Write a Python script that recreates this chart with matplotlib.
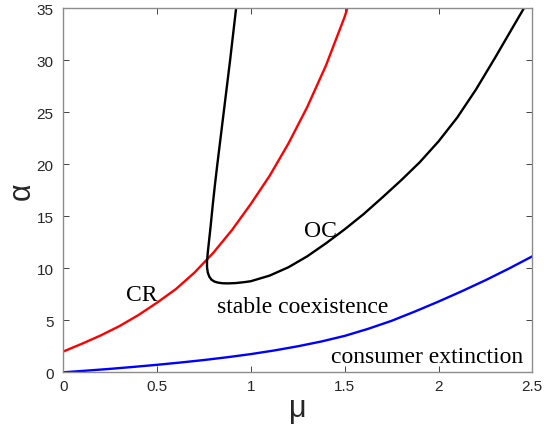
import matplotlib
matplotlib.use("Agg")
import matplotlib.pyplot as plt

# CR boundary (red)
cr_mu = [0.0, 0.1, 0.2, 0.3, 0.4, 0.5, 0.6, 0.7, 0.8, 0.9,
         1.0, 1.1, 1.2, 1.3, 1.4, 1.5, 1.514]
cr_alpha = [2.0, 2.75, 3.55, 4.45, 5.5, 6.7, 8.0, 9.6, 11.5, 13.7,
            16.2, 18.9, 22.0, 25.5, 29.5, 34.2, 35.0]

# consumer extinction boundary (blue)
ce_mu = [0.0, 0.125, 0.25, 0.375, 0.5, 0.625, 0.75, 0.875, 1.0, 1.125, 1.25,
         1.375, 1.5, 1.625, 1.75, 1.875, 2.0, 2.125, 2.25, 2.375, 2.5]
ce_alpha = [0.0, 0.16, 0.33, 0.52, 0.72, 0.94, 1.18, 1.45, 1.75, 2.1, 2.5,
            2.96, 3.5, 4.18, 4.95, 5.85, 6.8, 7.8, 8.85, 9.97, 11.15]

# OC boundary (black)
oc_mu = [0.921, 0.905, 0.889, 0.872, 0.855, 0.838, 0.821, 0.808, 0.796, 0.785,
         0.776, 0.770, 0.766, 0.766, 0.770, 0.778, 0.790, 0.806, 0.825, 0.85,
         0.88, 0.92, 0.97, 1.0, 1.1, 1.2, 1.3, 1.4, 1.5, 1.6, 1.7,
         1.8, 1.9, 2.0, 2.1, 2.2, 2.3, 2.4, 2.455]
oc_alpha = [35.0, 32.5, 30.0, 27.5, 25.0, 22.5, 20.0, 18.0, 16.0, 14.0,
            12.5, 11.5, 10.7, 10.1, 9.6, 9.2, 8.9, 8.72, 8.62, 8.56,
            8.55, 8.58, 8.68, 8.76, 9.3, 10.1, 11.15, 12.4, 13.75, 15.2, 16.8,
            18.45, 20.2, 22.2, 24.5, 27.2, 30.2, 33.3, 35.0]

xticks = [0, 0.5, 1, 1.5, 2, 2.5]
xticklabels = ["0", "0.5", "1", "1.5", "2", "2.5"]
yticks = [0, 5, 10, 15, 20, 25, 30, 35]

fig = plt.figure(figsize=(5.44, 4.31), dpi=100)
ax = fig.add_axes([0.1164, 0.1339, 0.8621, 0.8445])

ax.plot(cr_mu, cr_alpha, color="red", lw=1.7)
ax.plot(oc_mu, oc_alpha, color="black", lw=1.7)
ax.plot(ce_mu, ce_alpha, color="blue", lw=1.7)

ax.set_xlim(0, 2.5)
ax.set_ylim(0, 35)
ax.set_xticks(xticks)
ax.set_xticklabels(xticklabels)
ax.set_yticks(yticks)

tick_font = "Liberation Sans"
for lab in ax.get_xticklabels() + ax.get_yticklabels():
    lab.set_fontfamily(tick_font)
    lab.set_fontsize(11)
    lab.set_color("#262626")
ax.tick_params(axis="both", direction="in", length=4, width=0.6,
               color="#262626", top=True, right=True)
ax.tick_params(axis="x", pad=5)
ax.tick_params(axis="y", pad=7)
for sp in ax.spines.values():
    sp.set_color("#8c8c8c")
    sp.set_linewidth(1.0)

ax.set_xlabel("μ", fontfamily=tick_font, fontsize=22, color="#262626", labelpad=0)
ax.set_ylabel("α", fontfamily=tick_font, fontsize=22, color="#262626")
ax.yaxis.set_label_coords(-0.057, 0.5)

serif = "Liberation Serif"
ax.text(0.334, 6.98, "CR", fontfamily=serif, fontsize=17, va="baseline")
ax.text(1.283, 13.08, "OC", fontfamily=serif, fontsize=17, va="baseline")
ax.text(0.818, 5.83, "stable coexistence", fontfamily=serif, fontsize=17, va="baseline")
ax.text(2.45, 1.02, "consumer extinction", fontfamily=serif, fontsize=17,
        va="baseline", ha="right")

fig.savefig("out.png", dpi=100)
